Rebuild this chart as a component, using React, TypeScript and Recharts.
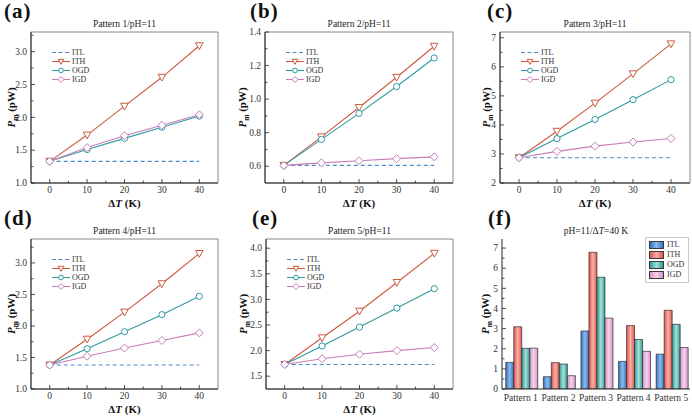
import { Bar, BarChart, Legend, Line, LineChart, ReferenceArea, XAxis, YAxis } from 'recharts'

const FONT = '"Liberation Serif", "Times New Roman", serif'
const INK = '#262626'

// ΔT (K) sample points for panels a–e
const deltaT = [0, 10, 20, 30, 40]
const xMajor = [0, 10, 20, 30, 40]
const xMinor = [5, 15, 25, 35]

const seriesNames = ['ITL', 'ITH', 'OGD', 'IGD']
const seriesKeys = ['itl', 'ith', 'ogd', 'igd']
const lineColors = ['#4d8bc6', '#cc5a42', '#2e9ba1', '#c77db8']
const markerShapes = ['none', 'tri', 'circle', 'diamond']

// Pattern 1
const p1Itl = [1.33, 1.33, 1.33, 1.33, 1.33]
const p1Ith = [1.33, 1.73, 2.17, 2.61, 3.09]
const p1Ogd = [1.33, 1.51, 1.68, 1.85, 2.02]
const p1Igd = [1.33, 1.54, 1.72, 1.88, 2.04]
// Pattern 2
const p2Itl = [0.605, 0.605, 0.605, 0.605, 0.605]
const p2Ith = [0.605, 0.775, 0.95, 1.13, 1.315]
const p2Ogd = [0.605, 0.76, 0.915, 1.075, 1.245]
const p2Igd = [0.605, 0.62, 0.633, 0.645, 0.656]
// Pattern 3
const p3Itl = [2.87, 2.87, 2.87, 2.87, 2.87]
const p3Ith = [2.87, 3.78, 4.75, 5.76, 6.79]
const p3Ogd = [2.87, 3.53, 4.19, 4.87, 5.56]
const p3Igd = [2.87, 3.09, 3.27, 3.41, 3.53]
// Pattern 4
const p4Itl = [1.38, 1.38, 1.38, 1.38, 1.38]
const p4Ith = [1.38, 1.79, 2.22, 2.67, 3.15]
const p4Ogd = [1.38, 1.64, 1.91, 2.18, 2.47]
const p4Igd = [1.38, 1.52, 1.65, 1.77, 1.89]
// Pattern 5
const p5Itl = [1.73, 1.73, 1.73, 1.73, 1.73]
const p5Ith = [1.73, 2.25, 2.77, 3.33, 3.9]
const p5Ogd = [1.73, 2.09, 2.46, 2.83, 3.21]
const p5Igd = [1.73, 1.84, 1.93, 2.0, 2.06]

// panel f: pH=11, ΔT=40 K
const patterns = ['Pattern 1', 'Pattern 2', 'Pattern 3', 'Pattern 4', 'Pattern 5']
const barItl = [1.32, 0.61, 2.88, 1.37, 1.73]
const barIth = [3.09, 1.31, 6.79, 3.15, 3.91]
const barOgd = [2.02, 1.24, 5.55, 2.46, 3.21]
const barIgd = [2.03, 0.66, 3.52, 1.87, 2.06]

const barBase = ['#3471c4', '#e0544c', '#2a9d92', '#d592c8']
const barLight = ['#8cbcec', '#f8b0a8', '#a8e0d8', '#f4d4ec']

const YW = 34
const MT = 6
const MR = 3
const XH = 22

type Panel = {
  letter: string
  title: string
  left: number
  top: number
  right: number
  bottom: number
  yDomain: [number, number]
  yMajor: number[]
  yMinor: number[]
  digits: number
  yGap: number
  series: number[][]
}

const panels: Panel[] = [
  { letter: '(a)', title: 'Pattern 1/pH=11', left: 31, top: 32, right: 218, bottom: 183, yDomain: [1.0, 3.3],
    yMajor: [1.0, 1.5, 2.0, 2.5, 3.0], yMinor: [1.25, 1.75, 2.25, 2.75, 3.25], digits: 1, yGap: 20,
    series: [p1Itl, p1Ith, p1Ogd, p1Igd] },
  { letter: '(b)', title: 'Pattern 2/pH=11', left: 265, top: 32, right: 453, bottom: 183, yDomain: [0.5, 1.4],
    yMajor: [0.6, 0.8, 1.0, 1.2, 1.4], yMinor: [0.7, 0.9, 1.1, 1.3], digits: 1, yGap: 23,
    series: [p2Itl, p2Ith, p2Ogd, p2Igd] },
  { letter: '(c)', title: 'Pattern 3/pH=11', left: 500, top: 32, right: 690, bottom: 183, yDomain: [2, 7.2],
    yMajor: [2, 3, 4, 5, 6, 7], yMinor: [2.5, 3.5, 4.5, 5.5, 6.5], digits: 0, yGap: 14,
    series: [p3Itl, p3Ith, p3Ogd, p3Igd] },
  { letter: '(d)', title: 'Pattern 4/pH=11', left: 31, top: 239, right: 218, bottom: 389, yDomain: [1.0, 3.38],
    yMajor: [1.0, 1.5, 2.0, 2.5, 3.0], yMinor: [1.25, 1.75, 2.25, 2.75, 3.25], digits: 1, yGap: 20,
    series: [p4Itl, p4Ith, p4Ogd, p4Igd] },
  { letter: '(e)', title: 'Pattern 5/pH=11', left: 266, top: 239, right: 453, bottom: 389, yDomain: [1.25, 4.18],
    yMajor: [1.5, 2.0, 2.5, 3.0, 3.5, 4.0], yMinor: [1.75, 2.25, 2.75, 3.25, 3.75], digits: 1, yGap: 23,
    series: [p5Itl, p5Ith, p5Ogd, p5Igd] },
]

const barPanel = { left: 502, top: 239, right: 690, bottom: 389, yDomain: [0, 7.45] as [number, number],
  yMajor: [0, 1, 2, 3, 4, 5, 6, 7], yMinor: [0.5, 1.5, 2.5, 3.5, 4.5, 5.5, 6.5], yGap: 17 }

function Marker({ cx, cy, shape, color, s = 1 }: { cx: number; cy: number; shape: string; color: string; s?: number }) {
  if (shape === 'tri')
    return <polygon points={`${cx - 3.8 * s},${cy - 3 * s} ${cx + 3.8 * s},${cy - 3 * s} ${cx},${cy + 3.8 * s}`} fill="#fff" stroke={color} strokeWidth={1} />
  if (shape === 'circle') return <circle cx={cx} cy={cy} r={3.1 * s} fill="#fff" stroke={color} strokeWidth={1} />
  if (shape === 'diamond')
    return <polygon points={`${cx},${cy - 4 * s} ${cx + 4 * s},${cy} ${cx},${cy + 4 * s} ${cx - 4 * s},${cy}`} fill="#fff" stroke={color} strokeWidth={1} />
  return null
}

const near = (list: number[], v: number) => list.some((m) => Math.abs(m - v) < 1e-6)

const xTick = (props: any) => {
  const { x, y, payload } = props
  const major = near(xMajor, payload.value)
  const ay = y - 3.5
  return (
    <g>
      <line x1={x} x2={x} y1={ay} y2={ay - (major ? 4 : 2.5)} stroke={INK} strokeWidth={0.8} />
      {major && (
        <text x={x} y={y} dy="0.71em" textAnchor="middle" fontSize={9.5} fill="#333" fontFamily={FONT}>
          {payload.value}
        </text>
      )}
    </g>
  )
}

const yTick = (majors: number[], digits: number) => (props: any) => {
  const { x, y, payload } = props
  const major = near(majors, payload.value)
  const ax = x + 4
  return (
    <g>
      <line x1={ax} x2={ax + (major ? 4 : 2.5)} y1={y} y2={y} stroke={INK} strokeWidth={0.8} />
      {major && (
        <text x={x} y={y} dy="0.34em" textAnchor="end" fontSize={9.5} fill="#333" fontFamily={FONT}>
          {payload.value.toFixed(digits)}
        </text>
      )}
    </g>
  )
}

function LineLegend() {
  return (
    <div style={{ fontFamily: FONT, fontSize: 8, color: '#333' }}>
      {seriesNames.map((name, i) => (
        <div key={name} style={{ display: 'flex', alignItems: 'center', height: 9 }}>
          <svg width={18} height={9} style={{ display: 'block' }}>
            <line x1={0} x2={18} y1={4.5} y2={4.5} stroke={lineColors[i]} strokeWidth={1.1} strokeDasharray={i === 0 ? '4 2.5' : undefined} />
            <Marker cx={9} cy={4.5} shape={markerShapes[i]} color={lineColors[i]} s={0.75} />
          </svg>
          <span style={{ marginLeft: 2, lineHeight: '9px' }}>{name}</span>
        </div>
      ))}
    </div>
  )
}

function BarLegend() {
  return (
    <div style={{ fontFamily: FONT, fontSize: 8, color: '#333', border: '0.5px solid #c8c8c8', background: '#fff', padding: '2px 4px 2px 3px' }}>
      {seriesNames.map((name, i) => (
        <div key={name} style={{ display: 'flex', alignItems: 'center', height: 10 }}>
          <div
            style={{
              width: 15,
              height: 8,
              boxSizing: 'border-box',
              border: '0.7px solid #3a3a3a',
              background: `linear-gradient(90deg, ${barBase[i]} 0%, ${barLight[i]} 50%, ${barBase[i]} 100%)`,
            }}
          />
          <span style={{ marginLeft: 3, lineHeight: '10px' }}>{name}</span>
        </div>
      ))}
    </div>
  )
}

function LinePanel({ p }: { p: Panel }) {
  const rows = deltaT.map((t, i) => ({ t, itl: p.series[0][i], ith: p.series[1][i], ogd: p.series[2][i], igd: p.series[3][i] }))
  const w = YW + p.right - p.left + MR
  const h = MT + p.bottom - p.top + XH
  const yTicks = [...p.yMajor, ...p.yMinor].sort((a, b) => a - b)
  const xTicks = [...xMajor, ...xMinor].sort((a, b) => a - b)
  return (
    <div style={{ position: 'absolute', left: p.left - YW, top: p.top - MT, width: w, height: h }}>
      <LineChart width={w} height={h} data={rows} margin={{ top: MT, right: MR, left: 0, bottom: 0 }}>
        <ReferenceArea x1={-5} x2={45} y1={p.yDomain[0]} y2={p.yDomain[1]} fill="none" stroke="#7a7a7a" strokeWidth={0.9} ifOverflow="visible" />
        <XAxis type="number" dataKey="t" domain={[-5, 45]} ticks={xTicks} interval={0} tickSize={0} tickMargin={3.5}
          tickLine={false} axisLine={{ stroke: INK }} height={XH} tick={xTick} allowDataOverflow />
        <YAxis type="number" domain={p.yDomain} ticks={yTicks} interval={0} tickSize={0} tickMargin={4}
          tickLine={false} axisLine={{ stroke: INK }} width={YW} tick={yTick(p.yMajor, p.digits)} allowDataOverflow />
        <Legend layout="vertical" align="center" verticalAlign="middle"
          wrapperStyle={{ left: YW + 21, top: MT + 16, width: 'auto', margin: 0 }} content={() => <LineLegend />} />
        {seriesKeys.map((k, i) => (
          <Line
            key={k}
            type="linear"
            dataKey={k}
            stroke={lineColors[i]}
            strokeWidth={1.1}
            strokeDasharray={i === 0 ? '4 3' : undefined}
            dot={i === 0 ? false : (d: any) => <Marker key={`${k}-${d.index}`} cx={d.cx} cy={d.cy} shape={markerShapes[i]} color={lineColors[i]} />}
            activeDot={false}
            isAnimationActive={false}
          />
        ))}
      </LineChart>
    </div>
  )
}

function BarPanel() {
  const p = barPanel
  const rows = patterns.map((name, i) => ({ name, itl: barItl[i], ith: barIth[i], ogd: barOgd[i], igd: barIgd[i] }))
  const w = YW + p.right - p.left + MR
  const h = MT + p.bottom - p.top + XH
  const yTicks = [...p.yMajor, ...p.yMinor].sort((a, b) => a - b)
  return (
    <div style={{ position: 'absolute', left: p.left - YW, top: p.top - MT, width: w, height: h }}>
      <BarChart width={w} height={h} data={rows} margin={{ top: MT, right: MR, left: 0, bottom: 0 }} barCategoryGap="10%" barGap={0}>
        <defs>
          {seriesKeys.map((k, i) => (
            <linearGradient key={k} id={`bar-${k}`} x1="0" y1="0" x2="1" y2="0">
              <stop offset="0%" stopColor={barBase[i]} />
              <stop offset="50%" stopColor={barLight[i]} />
              <stop offset="100%" stopColor={barBase[i]} />
            </linearGradient>
          ))}
        </defs>
        <XAxis dataKey="name" interval={0} tickLine={false} tickSize={0} tickMargin={5} axisLine={{ stroke: INK }} height={XH}
          tick={{ fontSize: 9.5, fill: '#333', fontFamily: FONT }} />
        <YAxis type="number" domain={p.yDomain} ticks={yTicks} interval={0} tickSize={0} tickMargin={4}
          tickLine={false} axisLine={{ stroke: INK }} width={YW} tick={yTick(p.yMajor, 0)} allowDataOverflow />
        <Legend layout="vertical" align="center" verticalAlign="middle"
          wrapperStyle={{ left: 177, top: MT - 2, width: 'auto', margin: 0 }} content={() => <BarLegend />} />
        {seriesKeys.map((k) => (
          <Bar key={k} dataKey={k} fill={`url(#bar-${k})`} stroke="#2e2e2e" strokeWidth={0.7} isAnimationActive={false} />
        ))}
      </BarChart>
    </div>
  )
}

function YTitle({ x, y }: { x: number; y: number }) {
  return (
    <text transform={`translate(${x + 4},${y}) rotate(-90)`} textAnchor="middle" fontSize={11} fontWeight="bold" fill="#111">
      <tspan fontStyle="italic">P</tspan>
      <tspan fontSize={7.5} dy={2.5}>m</tspan>
      <tspan dy={-2.5}> (pW)</tspan>
    </text>
  )
}

function XTitle({ x, y }: { x: number; y: number }) {
  return (
    <text x={x} y={y} textAnchor="middle" fontSize={11} fontWeight="bold" fill="#111">
      Δ<tspan fontStyle="italic">T</tspan> (K)
    </text>
  )
}

const letterPos = [
  [4, 18],
  [250, 18],
  [487, 18],
  [4, 225],
  [252, 225],
]

export default function App() {
  return (
    <div style={{ position: 'absolute', left: 0, top: 0, width: 692, height: 420, background: '#fff', fontFamily: FONT, overflow: 'hidden' }}>
      {panels.map((p) => (
        <LinePanel key={p.letter} p={p} />
      ))}
      <BarPanel />
      <svg width={692} height={420} style={{ position: 'absolute', left: 0, top: 0, pointerEvents: 'none', fontFamily: FONT }}>
        {panels.map((p, i) => (
          <g key={p.letter}>
            <text x={letterPos[i][0]} y={letterPos[i][1]} fontSize={21} fontWeight="bold" letterSpacing={1} fill="#111">
              {p.letter}
            </text>
            <text x={(p.left + p.right) / 2} y={p.top - 5} textAnchor="middle" fontSize={9.5} fill="#222">
              {p.title}
            </text>
            <YTitle x={p.left - p.yGap} y={(p.top + p.bottom) / 2} />
            <XTitle x={(p.left + p.right) / 2} y={p.bottom + 24} />
          </g>
        ))}
        <text x={488} y={225} fontSize={21} fontWeight="bold" letterSpacing={1} fill="#111">
          (f)
        </text>
        <text x={(barPanel.left + barPanel.right) / 2} y={barPanel.top - 5} textAnchor="middle" fontSize={9.5} fill="#222">
          pH=11/Δ<tspan fontStyle="italic">T</tspan>=40 K
        </text>
        <YTitle x={barPanel.left - barPanel.yGap} y={(barPanel.top + barPanel.bottom) / 2} />
      </svg>
    </div>
  )
}
